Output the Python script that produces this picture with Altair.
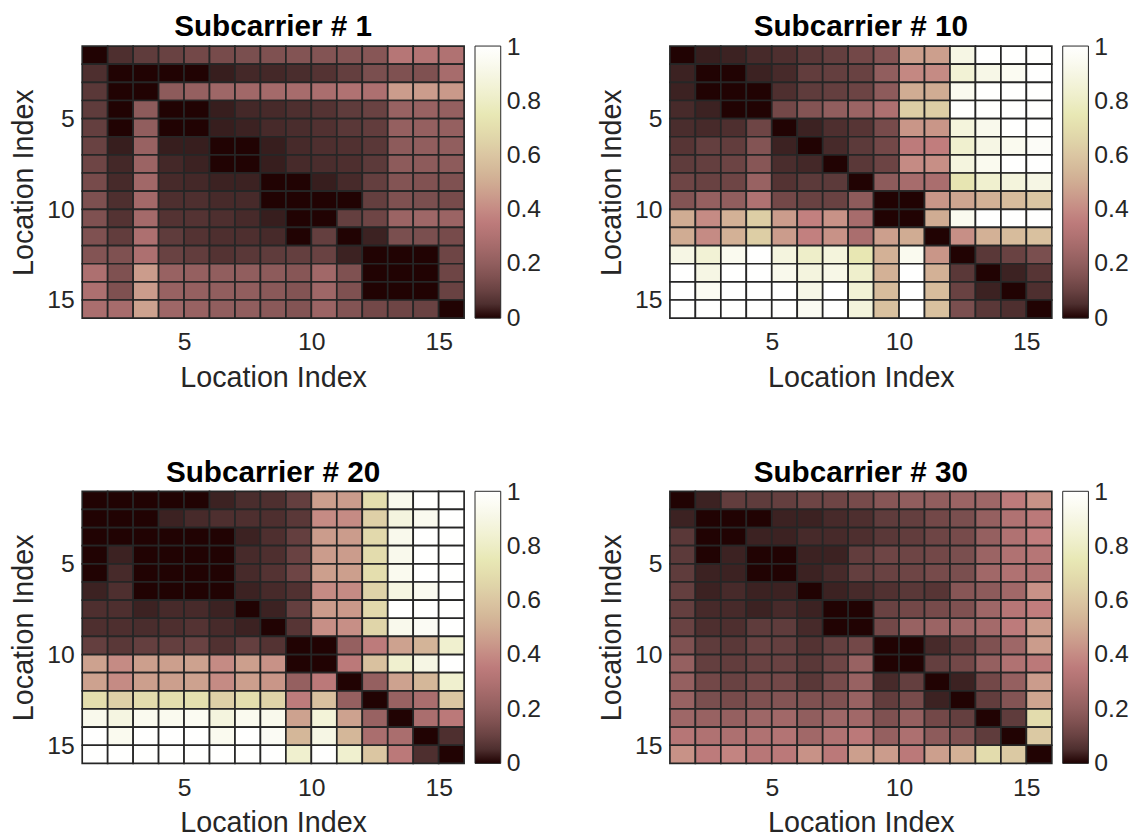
import numpy as np
import pandas as pd
import altair as alt

# ---------------- data ----------------
TITLES = ["Subcarrier # 1", "Subcarrier # 10", "Subcarrier # 20", "Subcarrier # 30"]
AXIS_TICKS = [5, 10, 15]
CBAR_TICKS = [0, 0.2, 0.4, 0.6, 0.8, 1]

S1 = [
    [0.00, 0.05, 0.08, 0.10, 0.12, 0.13, 0.14, 0.15, 0.16, 0.16, 0.16, 0.17, 0.32, 0.31, 0.30],
    [0.05, 0.00, 0.00, 0.00, 0.00, 0.02, 0.035, 0.035, 0.045, 0.06, 0.09, 0.14, 0.15, 0.15, 0.27],
    [0.07, 0.00, 0.00, 0.19, 0.21, 0.24, 0.25, 0.26, 0.27, 0.28, 0.30, 0.29, 0.45, 0.45, 0.44],
    [0.08, 0.00, 0.19, 0.00, 0.00, 0.02, 0.035, 0.04, 0.05, 0.06, 0.08, 0.10, 0.22, 0.22, 0.21],
    [0.09, 0.00, 0.20, 0.00, 0.00, 0.02, 0.025, 0.04, 0.045, 0.055, 0.07, 0.085, 0.21, 0.21, 0.21],
    [0.10, 0.02, 0.22, 0.02, 0.02, 0.00, 0.00, 0.02, 0.04, 0.05, 0.055, 0.07, 0.19, 0.20, 0.20],
    [0.11, 0.035, 0.23, 0.035, 0.025, 0.00, 0.00, 0.02, 0.04, 0.045, 0.05, 0.075, 0.19, 0.19, 0.19],
    [0.13, 0.04, 0.25, 0.04, 0.035, 0.025, 0.025, 0.00, 0.00, 0.02, 0.04, 0.09, 0.16, 0.155, 0.15],
    [0.145, 0.05, 0.255, 0.05, 0.05, 0.04, 0.04, 0.00, 0.00, 0.00, 0.00, 0.09, 0.15, 0.14, 0.13],
    [0.15, 0.06, 0.26, 0.06, 0.06, 0.05, 0.04, 0.02, 0.00, 0.00, 0.09, 0.11, 0.23, 0.24, 0.23],
    [0.15, 0.085, 0.29, 0.08, 0.06, 0.05, 0.05, 0.04, 0.00, 0.09, 0.00, 0.025, 0.14, 0.14, 0.13],
    [0.16, 0.15, 0.29, 0.10, 0.085, 0.06, 0.07, 0.08, 0.09, 0.10, 0.025, 0.00, 0.00, 0.00, 0.11],
    [0.29, 0.15, 0.45, 0.22, 0.21, 0.20, 0.20, 0.19, 0.17, 0.25, 0.15, 0.00, 0.00, 0.00, 0.11],
    [0.29, 0.15, 0.45, 0.22, 0.21, 0.20, 0.20, 0.18, 0.16, 0.24, 0.15, 0.00, 0.00, 0.00, 0.10],
    [0.28, 0.27, 0.47, 0.24, 0.22, 0.20, 0.20, 0.18, 0.16, 0.23, 0.16, 0.12, 0.11, 0.10, 0.00],
]

S10 = [
    [0.00, 0.02, 0.025, 0.04, 0.05, 0.07, 0.09, 0.12, 0.16, 0.46, 0.46, 0.90, 1.00, 1.00, 1.00],
    [0.025, 0.00, 0.00, 0.025, 0.04, 0.085, 0.09, 0.10, 0.20, 0.39, 0.40, 0.85, 0.91, 0.95, 1.00],
    [0.025, 0.00, 0.00, 0.00, 0.05, 0.08, 0.09, 0.105, 0.19, 0.50, 0.50, 0.94, 1.00, 1.00, 1.00],
    [0.04, 0.025, 0.00, 0.00, 0.12, 0.16, 0.20, 0.23, 0.29, 0.63, 0.63, 1.00, 1.00, 1.00, 1.00],
    [0.045, 0.04, 0.05, 0.11, 0.00, 0.025, 0.05, 0.065, 0.13, 0.43, 0.43, 0.87, 0.93, 1.00, 1.00],
    [0.065, 0.09, 0.085, 0.16, 0.025, 0.00, 0.04, 0.075, 0.12, 0.35, 0.36, 0.83, 0.90, 0.94, 0.97],
    [0.08, 0.09, 0.105, 0.17, 0.045, 0.035, 0.00, 0.07, 0.105, 0.40, 0.41, 0.88, 0.94, 1.00, 1.00],
    [0.11, 0.10, 0.11, 0.22, 0.06, 0.075, 0.075, 0.00, 0.19, 0.27, 0.28, 0.73, 0.83, 0.87, 0.90],
    [0.16, 0.21, 0.20, 0.30, 0.12, 0.10, 0.10, 0.19, 0.00, 0.00, 0.43, 0.48, 0.52, 0.56, 0.60],
    [0.50, 0.40, 0.52, 0.63, 0.45, 0.37, 0.42, 0.27, 0.00, 0.00, 0.50, 0.94, 1.00, 1.00, 1.00],
    [0.50, 0.40, 0.52, 0.63, 0.45, 0.37, 0.42, 0.28, 0.46, 0.50, 0.00, 0.41, 0.52, 0.56, 0.58],
    [0.90, 0.85, 0.94, 1.00, 0.88, 0.81, 0.87, 0.74, 0.52, 0.94, 0.43, 0.00, 0.07, 0.10, 0.14],
    [1.00, 0.90, 1.00, 1.00, 0.93, 0.88, 0.91, 0.82, 0.52, 1.00, 0.52, 0.07, 0.00, 0.025, 0.065],
    [1.00, 0.95, 1.00, 1.00, 1.00, 0.91, 1.00, 0.85, 0.56, 1.00, 0.56, 0.10, 0.025, 0.00, 0.05],
    [1.00, 1.00, 1.00, 1.00, 1.00, 0.95, 1.00, 0.87, 0.58, 1.00, 0.58, 0.14, 0.07, 0.05, 0.00],
]

S20 = [
    [0.00, 0.00, 0.00, 0.00, 0.00, 0.025, 0.045, 0.05, 0.09, 0.46, 0.45, 0.70, 0.93, 1.00, 1.00],
    [0.00, 0.00, 0.00, 0.025, 0.04, 0.05, 0.05, 0.05, 0.07, 0.40, 0.40, 0.64, 0.88, 0.94, 1.00],
    [0.00, 0.00, 0.00, 0.00, 0.00, 0.00, 0.025, 0.05, 0.09, 0.45, 0.45, 0.68, 0.93, 1.00, 1.00],
    [0.00, 0.025, 0.00, 0.00, 0.00, 0.00, 0.04, 0.05, 0.10, 0.45, 0.45, 0.69, 0.93, 1.00, 1.00],
    [0.00, 0.04, 0.00, 0.00, 0.00, 0.00, 0.04, 0.06, 0.11, 0.46, 0.46, 0.70, 0.94, 1.00, 1.00],
    [0.025, 0.05, 0.00, 0.00, 0.00, 0.00, 0.025, 0.04, 0.055, 0.40, 0.40, 0.65, 0.89, 0.94, 1.00],
    [0.05, 0.05, 0.025, 0.04, 0.04, 0.025, 0.00, 0.025, 0.09, 0.45, 0.44, 0.68, 1.00, 1.00, 1.00],
    [0.05, 0.05, 0.045, 0.05, 0.06, 0.04, 0.025, 0.00, 0.065, 0.41, 0.41, 0.66, 0.93, 0.96, 1.00],
    [0.09, 0.07, 0.09, 0.09, 0.10, 0.055, 0.09, 0.06, 0.00, 0.00, 0.21, 0.35, 0.47, 0.53, 0.83],
    [0.47, 0.40, 0.46, 0.46, 0.47, 0.40, 0.46, 0.42, 0.00, 0.00, 0.34, 0.58, 0.83, 0.90, 1.00],
    [0.47, 0.40, 0.46, 0.46, 0.47, 0.40, 0.46, 0.43, 0.21, 0.34, 0.00, 0.21, 0.47, 0.54, 0.83],
    [0.70, 0.64, 0.69, 0.70, 0.71, 0.64, 0.70, 0.65, 0.35, 0.58, 0.21, 0.00, 0.22, 0.28, 0.60],
    [0.93, 0.89, 0.94, 0.94, 0.95, 0.88, 0.94, 0.93, 0.47, 0.86, 0.47, 0.22, 0.00, 0.28, 0.34],
    [1.00, 0.94, 1.00, 1.00, 1.00, 0.94, 1.00, 0.96, 0.54, 0.90, 0.54, 0.28, 0.28, 0.00, 0.05],
    [1.00, 1.00, 1.00, 1.00, 1.00, 1.00, 1.00, 1.00, 0.83, 1.00, 0.83, 0.60, 0.34, 0.05, 0.00],
]

S30 = [
    [0.00, 0.025, 0.085, 0.08, 0.09, 0.11, 0.11, 0.13, 0.17, 0.20, 0.20, 0.23, 0.24, 0.35, 0.42],
    [0.025, 0.00, 0.00, 0.00, 0.025, 0.025, 0.04, 0.05, 0.08, 0.09, 0.12, 0.14, 0.21, 0.30, 0.34],
    [0.07, 0.00, 0.00, 0.025, 0.025, 0.04, 0.04, 0.05, 0.07, 0.085, 0.11, 0.13, 0.21, 0.30, 0.36],
    [0.075, 0.00, 0.025, 0.00, 0.00, 0.025, 0.025, 0.085, 0.11, 0.11, 0.12, 0.14, 0.23, 0.30, 0.32],
    [0.08, 0.025, 0.025, 0.00, 0.00, 0.025, 0.04, 0.09, 0.10, 0.11, 0.13, 0.14, 0.25, 0.30, 0.30],
    [0.09, 0.025, 0.04, 0.025, 0.025, 0.00, 0.025, 0.04, 0.055, 0.07, 0.065, 0.17, 0.19, 0.25, 0.42],
    [0.09, 0.04, 0.04, 0.025, 0.04, 0.025, 0.00, 0.00, 0.10, 0.12, 0.13, 0.15, 0.24, 0.32, 0.36],
    [0.10, 0.05, 0.05, 0.08, 0.08, 0.04, 0.00, 0.00, 0.12, 0.22, 0.23, 0.24, 0.26, 0.35, 0.45],
    [0.15, 0.08, 0.07, 0.10, 0.09, 0.06, 0.09, 0.12, 0.00, 0.00, 0.04, 0.085, 0.15, 0.24, 0.45],
    [0.21, 0.09, 0.085, 0.10, 0.10, 0.07, 0.11, 0.22, 0.00, 0.00, 0.09, 0.12, 0.21, 0.30, 0.34],
    [0.21, 0.12, 0.10, 0.12, 0.12, 0.07, 0.13, 0.22, 0.04, 0.09, 0.00, 0.025, 0.12, 0.21, 0.45],
    [0.22, 0.14, 0.13, 0.15, 0.16, 0.15, 0.15, 0.22, 0.085, 0.13, 0.025, 0.00, 0.085, 0.16, 0.48],
    [0.24, 0.22, 0.21, 0.24, 0.25, 0.20, 0.24, 0.25, 0.15, 0.21, 0.12, 0.09, 0.00, 0.08, 0.69],
    [0.32, 0.30, 0.29, 0.30, 0.31, 0.25, 0.30, 0.34, 0.21, 0.29, 0.19, 0.15, 0.08, 0.00, 0.61],
    [0.42, 0.35, 0.38, 0.33, 0.34, 0.42, 0.34, 0.46, 0.45, 0.34, 0.46, 0.52, 0.69, 0.61, 0.00],
]

MATRICES = [S1, S10, S20, S30]

# ---------------- MATLAB "pink" colormap (64 entries) ----------------
M = 64
gray = np.arange(M) / (M - 1)
n = int(3 / 8 * M)
hot_r = np.concatenate([np.arange(1, n + 1) / n, np.ones(M - n)])
hot_g = np.concatenate([np.zeros(n), np.arange(1, n + 1) / n, np.ones(M - 2 * n)])
hot_b = np.concatenate([np.zeros(2 * n), np.arange(1, M - 2 * n + 1) / (M - 2 * n)])
hot = np.stack([hot_r, hot_g, hot_b], axis=1)
pink = np.sqrt((2 * gray[:, None] + hot) / 3)
PINK_COLORS = ["#%02x%02x%02x" % tuple(int(round(c * 255)) for c in row) for row in pink]
# stops very slightly beyond [0, 1] so that the end labels of the colorbar stay centred on its ends
PINK_STOPS = [float(v) for v in np.linspace(-0.002, 1.002, M)]

FONT = "Liberation Sans"
TXT = "#262626"
W, H = 386, 275


def panel(mat, title):
    rows = []
    for i, row in enumerate(mat):
        for j, v in enumerate(row):
            rows.append({"x0": j + 1, "x1": j + 2, "y0": i + 1, "y1": i + 2, "v": v})
    df = pd.DataFrame(rows)
    return (
        alt.Chart(
            df,
            title=alt.Title(
                title, fontSize=30, font=FONT, fontWeight="bold", color="black",
                anchor="middle", frame="group", offset=3,
            ),
        )
        .mark_rect(stroke="#262626", strokeWidth=1.7)
        .encode(
            x=alt.X(
                "x0:Q",
                scale=alt.Scale(domain=[1, 16], nice=False, zero=False),
                axis=alt.Axis(values=AXIS_TICKS, title="Location Index", labelPadding=12, titlePadding=9),
            ),
            x2="x1:Q",
            y=alt.Y(
                "y0:Q",
                scale=alt.Scale(domain=[1, 16], reverse=True, nice=False, zero=False),
                axis=alt.Axis(values=AXIS_TICKS, title="Location Index", labelPadding=8, titlePadding=8),
            ),
            y2="y1:Q",
            color=alt.Color(
                "v:Q",
                scale=alt.Scale(domain=PINK_STOPS, range=PINK_COLORS, interpolate="rgb"),
                legend=alt.Legend(
                    title=None, type="gradient", direction="vertical", orient="right",
                    offset=11, padding=0, gradientLength=H, gradientThickness=26,
                    gradientStrokeColor="#262626", gradientStrokeWidth=1,
                    values=CBAR_TICKS, format="~g", labelFontSize=25, labelFont=FONT,
                    labelColor=TXT, labelOffset=6, labelOverlap=False,
                ),
            ),
        )
        .properties(width=W, height=H)
    )


charts = [panel(m, t) for m, t in zip(MATRICES, TITLES)]
top = alt.hconcat(charts[0], charts[1], spacing=57).resolve_scale(color="independent")
bottom = alt.hconcat(charts[2], charts[3], spacing=57).resolve_scale(color="independent")
chart = (
    alt.vconcat(top, bottom, spacing=66)
    .resolve_scale(color="independent")
    .properties(padding={"left": 2, "top": 0, "right": 0, "bottom": 0})
    .configure_view(stroke=None)
    .configure_axis(
        labelFont=FONT, titleFont=FONT, labelFontSize=25, titleFontSize=29,
        labelColor=TXT, titleColor=TXT, titleFontWeight="normal",
        ticks=False, domain=False, grid=False,
    )
)

chart.save("out.html", embed_options={"renderer": "svg", "actions": False})
